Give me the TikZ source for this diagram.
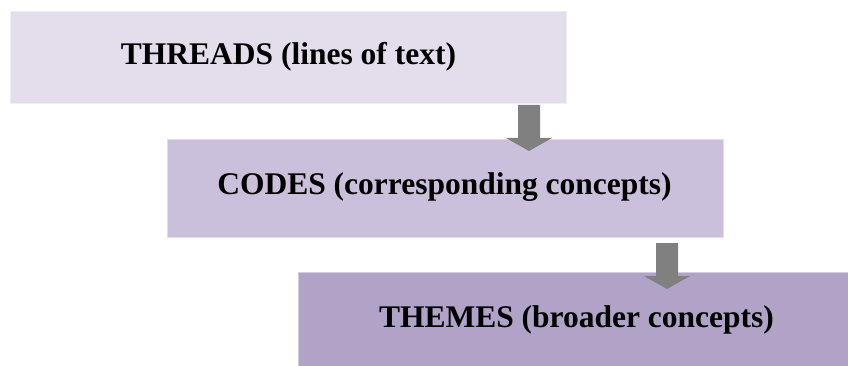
\documentclass[tikz,border=0pt]{standalone}
\usepackage{fontspec}
\setmainfont{Liberation Serif}
\begin{document}
\begin{tikzpicture}[x=1pt,y=1pt,
  box/.style={draw=#1!55!white, line width=0.8pt, fill=#1, inner sep=0pt, anchor=north west},
  lbl/.style={font=\bfseries\fontsize{31.5}{36}\selectfont, inner sep=0pt, anchor=base},
  arr/.style={fill=arrgray, draw=none}]
\definecolor{c1}{HTML}{E4DEEC}
\definecolor{c2}{HTML}{CBC0DB}
\definecolor{c3}{HTML}{B1A2C8}
\definecolor{arrgray}{HTML}{808080}
\useasboundingbox (0,0) rectangle (848,-366);
\node[box=c1, minimum width=556pt, minimum height=92pt] (b1) at (10,-11) {};
\node[box=c2, minimum width=556pt, minimum height=98pt] (b2) at (167,-139) {};
\node[box=c3, minimum width=556pt, minimum height=110pt] (b3) at (298,-272) {};
\node[lbl] (t1) at (288.5,-65) {THREADS (lines of text)};
\node[lbl] (t2) at (444.5,-195) {CODES (corresponding concepts)};
\node[lbl] (t3) at (576.5,-327) {THEMES (broader concepts)};
\coordinate (a1) at (529,-105);
\coordinate (a2) at (667,-243);
\fill[arr] (a1) ++(-11,0) -- ++(22,0) -- ++(0,-33) -- ++(12,0) -- ++(-23,-13) -- ++(-23,13) -- ++(12,0) -- cycle;
\fill[arr] (a2) ++(-11,0) -- ++(22,0) -- ++(0,-33) -- ++(12,0) -- ++(-23,-13) -- ++(-23,13) -- ++(12,0) -- cycle;
\end{tikzpicture}
\end{document}
